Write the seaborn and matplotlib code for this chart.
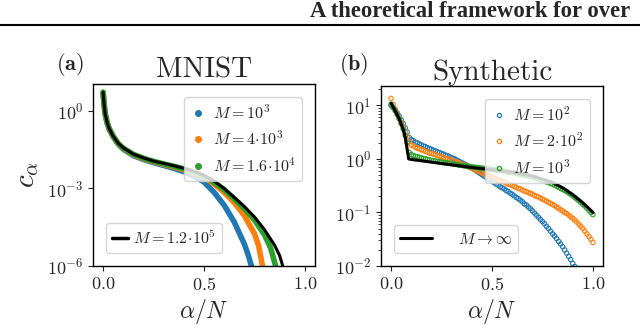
import numpy as np
import matplotlib
matplotlib.use("Agg")
import matplotlib.pyplot as plt
import seaborn as sns
from matplotlib.lines import Line2D
from matplotlib.ticker import NullLocator

sns.set_style("ticks")
plt.rcParams['font.family'] = 'serif'
plt.rcParams['font.serif'] = ['cmr10']
plt.rcParams['mathtext.fontset'] = 'cm'
plt.rcParams['axes.formatter.use_mathtext'] = True

C_BLUE, C_ORANGE, C_GREEN = '#1f77b4', '#ff7f0e', '#2ca02c'

# ---- panel (a): MNIST, log10(c_alpha)
xa_blue = [0, 0.005, 0.01, 0.02, 0.03, 0.05, 0.075, 0.1, 0.15, 0.2, 0.25, 0.3, 0.35, 0.4,
           0.45, 0.5, 0.55, 0.6, 0.65, 0.7, 0.72, 0.735, 0.74]
ya_blue = [0.72, 0.25, -0.1, -0.46, -0.7, -1.0, -1.29, -1.48, -1.73, -1.88, -2.0, -2.11,
           -2.22, -2.35, -2.52, -2.75, -3.15, -3.65, -4.3, -5.15, -5.6, -6.0, -6.5]
xa_orange = [0, 0.005, 0.01, 0.02, 0.03, 0.05, 0.075, 0.1, 0.15, 0.2, 0.25, 0.3, 0.35, 0.4,
             0.45, 0.5, 0.55, 0.6, 0.65, 0.7, 0.75, 0.77, 0.79, 0.795]
ya_orange = [0.72, 0.25, -0.1, -0.45, -0.69, -0.99, -1.27, -1.45, -1.7, -1.85, -1.97, -2.07,
             -2.17, -2.28, -2.41, -2.56, -2.83, -3.15, -3.55, -4.05, -4.75, -5.2, -6.0, -6.5]
xa_green = [0, 0.005, 0.01, 0.02, 0.03, 0.05, 0.075, 0.1, 0.15, 0.2, 0.25, 0.3, 0.35, 0.4,
            0.45, 0.5, 0.55, 0.6, 0.65, 0.7, 0.75, 0.8, 0.83, 0.855, 0.86]
ya_green = [0.72, 0.25, -0.1, -0.45, -0.68, -0.98, -1.26, -1.44, -1.68, -1.83, -1.95, -2.05,
            -2.14, -2.24, -2.37, -2.53, -2.76, -3.05, -3.4, -3.78, -4.22, -4.8, -5.3, -6.0, -6.5]
xa_black = [0, 0.005, 0.01, 0.02, 0.03, 0.05, 0.075, 0.1, 0.15, 0.2, 0.25, 0.3, 0.35, 0.4,
            0.45, 0.5, 0.55, 0.6, 0.65, 0.7, 0.75, 0.8, 0.85, 0.875, 0.89, 0.895]
ya_black = [0.72, 0.25, -0.1, -0.45, -0.68, -0.98, -1.25, -1.43, -1.67, -1.82, -1.94, -2.03,
            -2.12, -2.22, -2.34, -2.5, -2.72, -3.0, -3.35, -3.7, -4.1, -4.6, -5.2, -5.6, -6.0, -6.5]
labels_a = [r'$M=10^3$', r'$M=4\!\cdot\!10^3$', r'$M=1.6\!\cdot\!10^4$']
label_a_black = r'$M=1.2\!\cdot\!10^5$'

# ---- panel (b): Synthetic, alpha/N on a 0.01 grid, log10(c_alpha)
xb = [round(0.01 * i, 2) for i in range(101)]
yb_blue = [1.00, 0.96, 0.92, 0.86, 0.80, 0.73, 0.66, 0.58, 0.50, 0.40,
           0.36, 0.34, 0.31, 0.30, 0.28, 0.26, 0.24, 0.23, 0.21, 0.19,
           0.18, 0.16, 0.15, 0.13, 0.12, 0.10, 0.09, 0.07, 0.06, 0.04,
           0.02, 0.01, -0.01, -0.03, -0.05, -0.07, -0.09, -0.11, -0.13, -0.15,
           -0.17, -0.19, -0.22, -0.24, -0.27, -0.29, -0.32, -0.34, -0.37, -0.39,
           -0.42, -0.44, -0.47, -0.49, -0.52, -0.54, -0.56, -0.59, -0.61, -0.64,
           -0.66, -0.69, -0.72, -0.74, -0.77, -0.80, -0.84, -0.86, -0.90, -0.93,
           -0.97, -1.01, -1.05, -1.09, -1.13, -1.17, -1.21, -1.26, -1.30, -1.35,
           -1.40, -1.44, -1.49, -1.54, -1.59, -1.64, -1.70, -1.76, -1.82, -1.88,
           -1.95, -2.01, -2.08, -2.15, -2.22, -2.30, -2.38, -2.46, -2.54, -2.62,
           -2.70]
yb_orange = [1.13, 1.02, 0.93, 0.85, 0.76, 0.68, 0.60, 0.51, 0.42, 0.32,
             0.26, 0.24, 0.22, 0.20, 0.19, 0.17, 0.16, 0.14, 0.13, 0.11,
             0.10, 0.09, 0.08, 0.06, 0.05, 0.04, 0.03, 0.01, 0.00, -0.01,
             -0.02, -0.04, -0.05, -0.07, -0.08, -0.10, -0.11, -0.13, -0.14, -0.16,
             -0.17, -0.19, -0.21, -0.22, -0.24, -0.26, -0.28, -0.29, -0.31, -0.32,
             -0.34, -0.36, -0.37, -0.39, -0.40, -0.42, -0.43, -0.45, -0.47, -0.48,
             -0.50, -0.51, -0.53, -0.55, -0.56, -0.58, -0.60, -0.61, -0.63, -0.64,
             -0.66, -0.68, -0.70, -0.71, -0.73, -0.75, -0.77, -0.79, -0.81, -0.83,
             -0.85, -0.87, -0.90, -0.92, -0.95, -0.97, -1.00, -1.02, -1.05, -1.08,
             -1.11, -1.14, -1.18, -1.22, -1.26, -1.30, -1.35, -1.40, -1.45, -1.50,
             -1.56]
yb_green = [1.02, 0.96, 0.90, 0.83, 0.75, 0.66, 0.56, 0.44, 0.30, 0.12,
            0.08, 0.06, 0.05, 0.04, 0.03, 0.02, 0.01, 0.00, -0.01, -0.02,
            -0.03, -0.03, -0.04, -0.05, -0.05, -0.06, -0.07, -0.07, -0.08, -0.08,
            -0.09, -0.10, -0.10, -0.11, -0.12, -0.12, -0.13, -0.13, -0.14, -0.14,
            -0.15, -0.15, -0.16, -0.16, -0.17, -0.17, -0.18, -0.18, -0.19, -0.19,
            -0.20, -0.20, -0.21, -0.21, -0.22, -0.22, -0.23, -0.24, -0.25, -0.25,
            -0.26, -0.26, -0.27, -0.28, -0.29, -0.30, -0.31, -0.31, -0.32, -0.33,
            -0.34, -0.35, -0.36, -0.38, -0.39, -0.40, -0.41, -0.43, -0.44, -0.46,
            -0.47, -0.49, -0.51, -0.53, -0.55, -0.57, -0.59, -0.61, -0.64, -0.66,
            -0.69, -0.72, -0.75, -0.78, -0.82, -0.85, -0.88, -0.92, -0.96, -1.00,
            -1.04]
xb_black = [0, 0.02, 0.04, 0.06, 0.07, 0.078, 0.087, 0.1, 0.2, 0.3, 0.4, 0.5, 0.6, 0.7,
            0.8, 0.85, 0.9, 0.95, 1.0]
yb_black = [1.04, 0.9, 0.75, 0.55, 0.4, 0.22, 0.0, -0.01, -0.06, -0.11, -0.16, -0.2,
            -0.25, -0.32, -0.44, -0.54, -0.67, -0.82, -1.0]
labels_b = [r'$M=10^2$', r'$M=2\!\cdot\!10^2$', r'$M=10^3$']
label_b_black = r'$M\to\infty$'

fig = plt.figure(figsize=(6.4, 3.28), dpi=100)
W, H = 640, 328
ax1 = fig.add_axes([93 / W, 1 - 266 / H, 222 / W, (266 - 84) / H])
ax2 = fig.add_axes([381 / W, 1 - 266 / H, 222 / W, (266 - 86) / H])

# panel (a)
for xs, ys, col in [(xa_blue, ya_blue, C_BLUE), (xa_orange, ya_orange, C_ORANGE),
                    (xa_green, ya_green, C_GREEN)]:
    sns.lineplot(x=xs, y=10 ** np.array(ys), color=col, lw=4, sort=False,
                 estimator=None, ax=ax1, solid_capstyle='round')
sns.lineplot(x=xa_black, y=10 ** np.array(ya_black), color='black', lw=2.2, sort=False,
             estimator=None, ax=ax1)
ax1.set_yscale('log')
ax1.set_ylim(1e-6, 11)
ax1.set_xlim(-0.05, 1.05)
ax1.set_yticks([1e-6, 1e-3, 1e0])
ax1.yaxis.set_minor_locator(NullLocator())
ax1.set_xticks([0.0, 0.5, 1.0])

h_a = [Line2D([], [], ls='', marker='o', ms=4, color=c) for c in (C_BLUE, C_ORANGE, C_GREEN)]
leg1 = ax1.legend(h_a, labels_a, loc='upper right', fontsize=11.5, handlelength=1.0,
                  handletextpad=0.4, borderaxespad=0.8)
ax1.add_artist(leg1)
ax1.legend([Line2D([], [], color='black', lw=2.5)], [label_a_black], loc='lower left',
           fontsize=11.5, handlelength=1.0, handletextpad=0.3, borderaxespad=0.8)

# panel (b)
for ys, col in [(yb_blue, C_BLUE), (yb_orange, C_ORANGE), (yb_green, C_GREEN)]:
    sns.scatterplot(x=xb, y=10 ** np.array(ys), color=col, s=10, ax=ax2, legend=False,
                    marker='o', linewidth=0.8)
    ax2.collections[-1].set_facecolor('none')
    ax2.collections[-1].set_edgecolor(col)
sns.lineplot(x=xb_black, y=10 ** np.array(yb_black), color='black', lw=2.2, sort=False,
             estimator=None, ax=ax2)
ax2.set_yscale('log')
ax2.set_ylim(1e-2, 23)
ax2.set_xlim(-0.05, 1.05)
ax2.set_xticks([0.0, 0.5, 1.0])

h_b = [Line2D([], [], ls='', marker='o', ms=3, mfc='none', mew=0.9, color=c)
       for c in (C_BLUE, C_ORANGE, C_GREEN)]
leg2 = ax2.legend(h_b, labels_b, loc='upper right', fontsize=11.5, handlelength=1.0,
                  handletextpad=0.4, borderaxespad=0.8)
ax2.add_artist(leg2)
ax2.legend([Line2D([], [], color='black', lw=2.2)], [label_b_black], loc='lower left',
           fontsize=11.5, handlelength=2.0, handletextpad=1.6, borderaxespad=0.8)

for ax in (ax1, ax2):
    ax.tick_params(labelsize=13, direction='out', length=3.5, width=0.8)
    ax.tick_params(which='minor', length=2, width=0.6)
    for s in ax.spines.values():
        s.set_linewidth(1.0)
        s.set_color('black')
    ax.set_xlabel(r'$\alpha/N$', fontsize=17, labelpad=3)

ax1.set_ylabel(r'$c_\alpha$', fontsize=21, labelpad=4)
ax1.set_title('MNIST', fontsize=21, pad=5)
ax2.set_title('Synthetic', fontsize=21, pad=4)

fig.text(70 / W, 1 - 64 / H, r'$\mathbf{(a)}$', fontsize=16, ha='center', va='center')
fig.text(354 / W, 1 - 64 / H, r'$\mathbf{(b)}$', fontsize=16, ha='center', va='center')

# page header (cut by the page edge in the original)
fig.text(310 / W, 1 - 17 / H, 'A theoretical framework for over', fontsize=16.3,
         fontweight='bold', family='Liberation Serif', va='baseline', ha='left')
fig.add_artist(Line2D([0, 1], [1 - 25 / H, 1 - 25 / H], color='black', lw=1.5,
                      transform=fig.transFigure))

fig.savefig('out.png', dpi=100)
